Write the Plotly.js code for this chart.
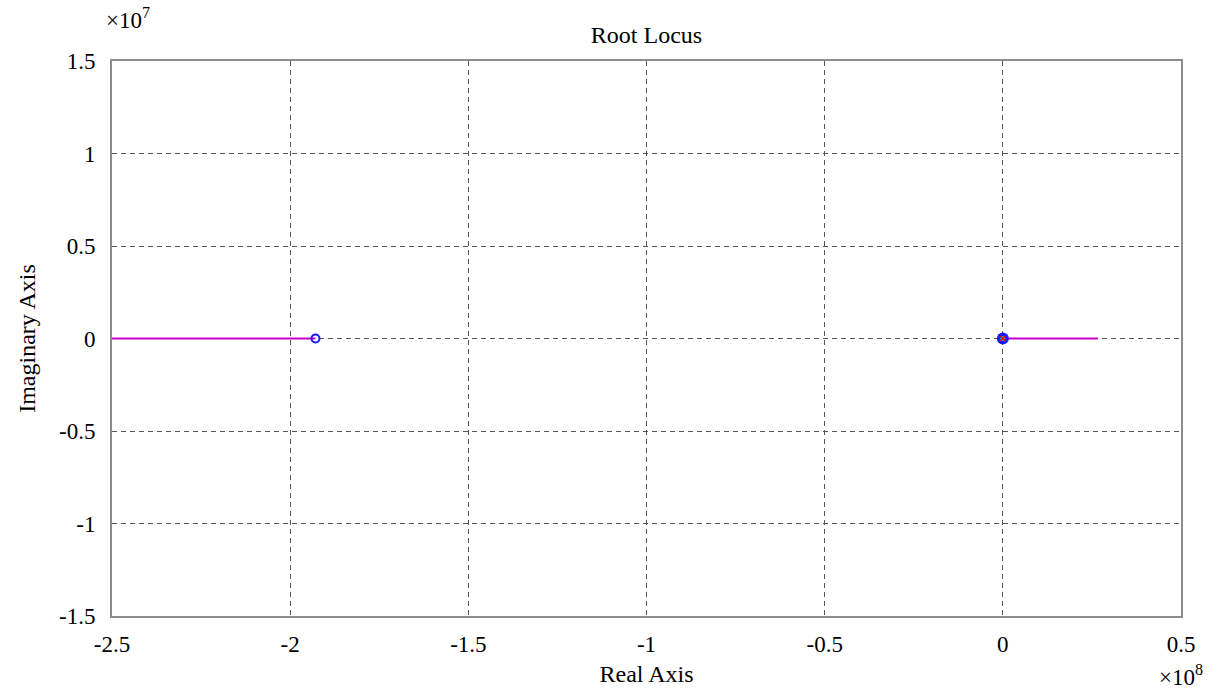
<!DOCTYPE html>
<html>
<head>
<meta charset="utf-8">
<script src="https://cdn.plot.ly/plotly-3.0.1.min.js"></script>
<style>
  html, body { margin: 0; padding: 0; background: #ffffff; }
  #plot { width: 1218px; height: 693px; }
</style>
</head>
<body>
<div id="plot"></div>
<script>
// Root locus branches along the real axis (real part, imaginary part)
const branchLeftRe = [-2.5e8, -1.929e8];
const branchLeftIm = [0, 0];
const branchRightRe = [0, 0.267e8];
const branchRightIm = [0, 0];

// Open-loop zero and poles
const zeroRe = [-1.929e8];
const zeroIm = [0];
const poleRe = [0];
const poleIm = [0];

// Axis ticks (values and labels in scaled units)
const xTickVals = [-2.5e8, -2e8, -1.5e8, -1e8, -0.5e8, 0, 0.5e8];
const xTickText = ['-2.5', '-2', '-1.5', '-1', '-0.5', '0', '0.5'];
const yTickVals = [-1.5e7, -1e7, -0.5e7, 0, 0.5e7, 1e7, 1.5e7];
const yTickText = ['-1.5', '-1', '-0.5', '0', '0.5', '1', '1.5'];

const serif = 'Liberation Serif, Times New Roman, serif';
const locusColor = '#cc00cc';
const tickSize = 23;
const titleSize = 24;

const traces = [
  { x: branchLeftRe, y: branchLeftIm, mode: 'lines', line: { color: locusColor, width: 2 }, hoverinfo: 'x+y' },
  { x: branchRightRe, y: branchRightIm, mode: 'lines', line: { color: locusColor, width: 2 }, hoverinfo: 'x+y' },
  { x: zeroRe, y: zeroIm, mode: 'markers',
    marker: { symbol: 'circle-open', size: 8, color: '#1a1aff', line: { width: 2, color: '#1a1aff' } } },
  { x: poleRe, y: poleIm, mode: 'markers',
    marker: { symbol: 'circle', size: 12, color: '#1a1aff', line: { width: 0 } } },
  { x: poleRe, y: poleIm, mode: 'markers',
    marker: { symbol: 'circle', size: 5, color: '#20c0c0', line: { width: 0 } } },
  { x: poleRe, y: poleIm, mode: 'markers',
    marker: { symbol: 'x-thin-open', size: 5, color: '#ff0000', line: { width: 1.5, color: '#ff0000' } } }
];

const axisCommon = {
  showgrid: true,
  gridcolor: '#555555',
  gridwidth: 1,
  griddash: '5px,4px',
  zeroline: false,
  showline: true,
  mirror: true,
  linecolor: '#8c8c8c',
  linewidth: 2,
  ticks: '',
  tickfont: { family: serif, size: tickSize, color: '#000000' }
};

const layout = {
  width: 1218,
  height: 693,
  paper_bgcolor: '#ffffff',
  plot_bgcolor: '#ffffff',
  showlegend: false,
  margin: { l: 112, r: 37, t: 61, b: 77 },
  title: {
    text: 'Root Locus',
    font: { family: serif, size: titleSize, color: '#000000' },
    x: 0.5, xref: 'paper', xanchor: 'center',
    y: 1 - 35 / 693, yref: 'container', yanchor: 'middle'
  },
  xaxis: Object.assign({}, axisCommon, {
    range: [-2.5e8, 0.5e8],
    tickmode: 'array',
    tickvals: xTickVals,
    ticktext: xTickText,
    ticklabelstandoff: 6,
    title: { text: 'Real Axis', standoff: 10, font: { family: serif, size: titleSize, color: '#000000' } }
  }),
  yaxis: Object.assign({}, axisCommon, {
    range: [-1.5e7, 1.5e7],
    tickmode: 'array',
    tickvals: yTickVals,
    ticktext: yTickText,
    ticklabelstandoff: 10,
    title: { text: 'Imaginary Axis', standoff: 17, font: { family: serif, size: titleSize, color: '#000000' } }
  }),
  annotations: [
    { text: '×10<sup>7</sup>', xref: 'paper', yref: 'paper', x: 0, y: 1,
      xanchor: 'left', yanchor: 'bottom', yshift: 26, xshift: -8, showarrow: false,
      font: { family: serif, size: tickSize, color: '#000000' } },
    { text: '×10<sup>8</sup>', xref: 'paper', yref: 'paper', x: 1, y: 0,
      xanchor: 'center', yanchor: 'bottom', yshift: -76, xshift: 0, showarrow: false,
      font: { family: serif, size: tickSize, color: '#000000' } }
  ]
};

Plotly.newPlot('plot', traces, layout, { displayModeBar: false, staticPlot: true });
</script>
</body>
</html>
